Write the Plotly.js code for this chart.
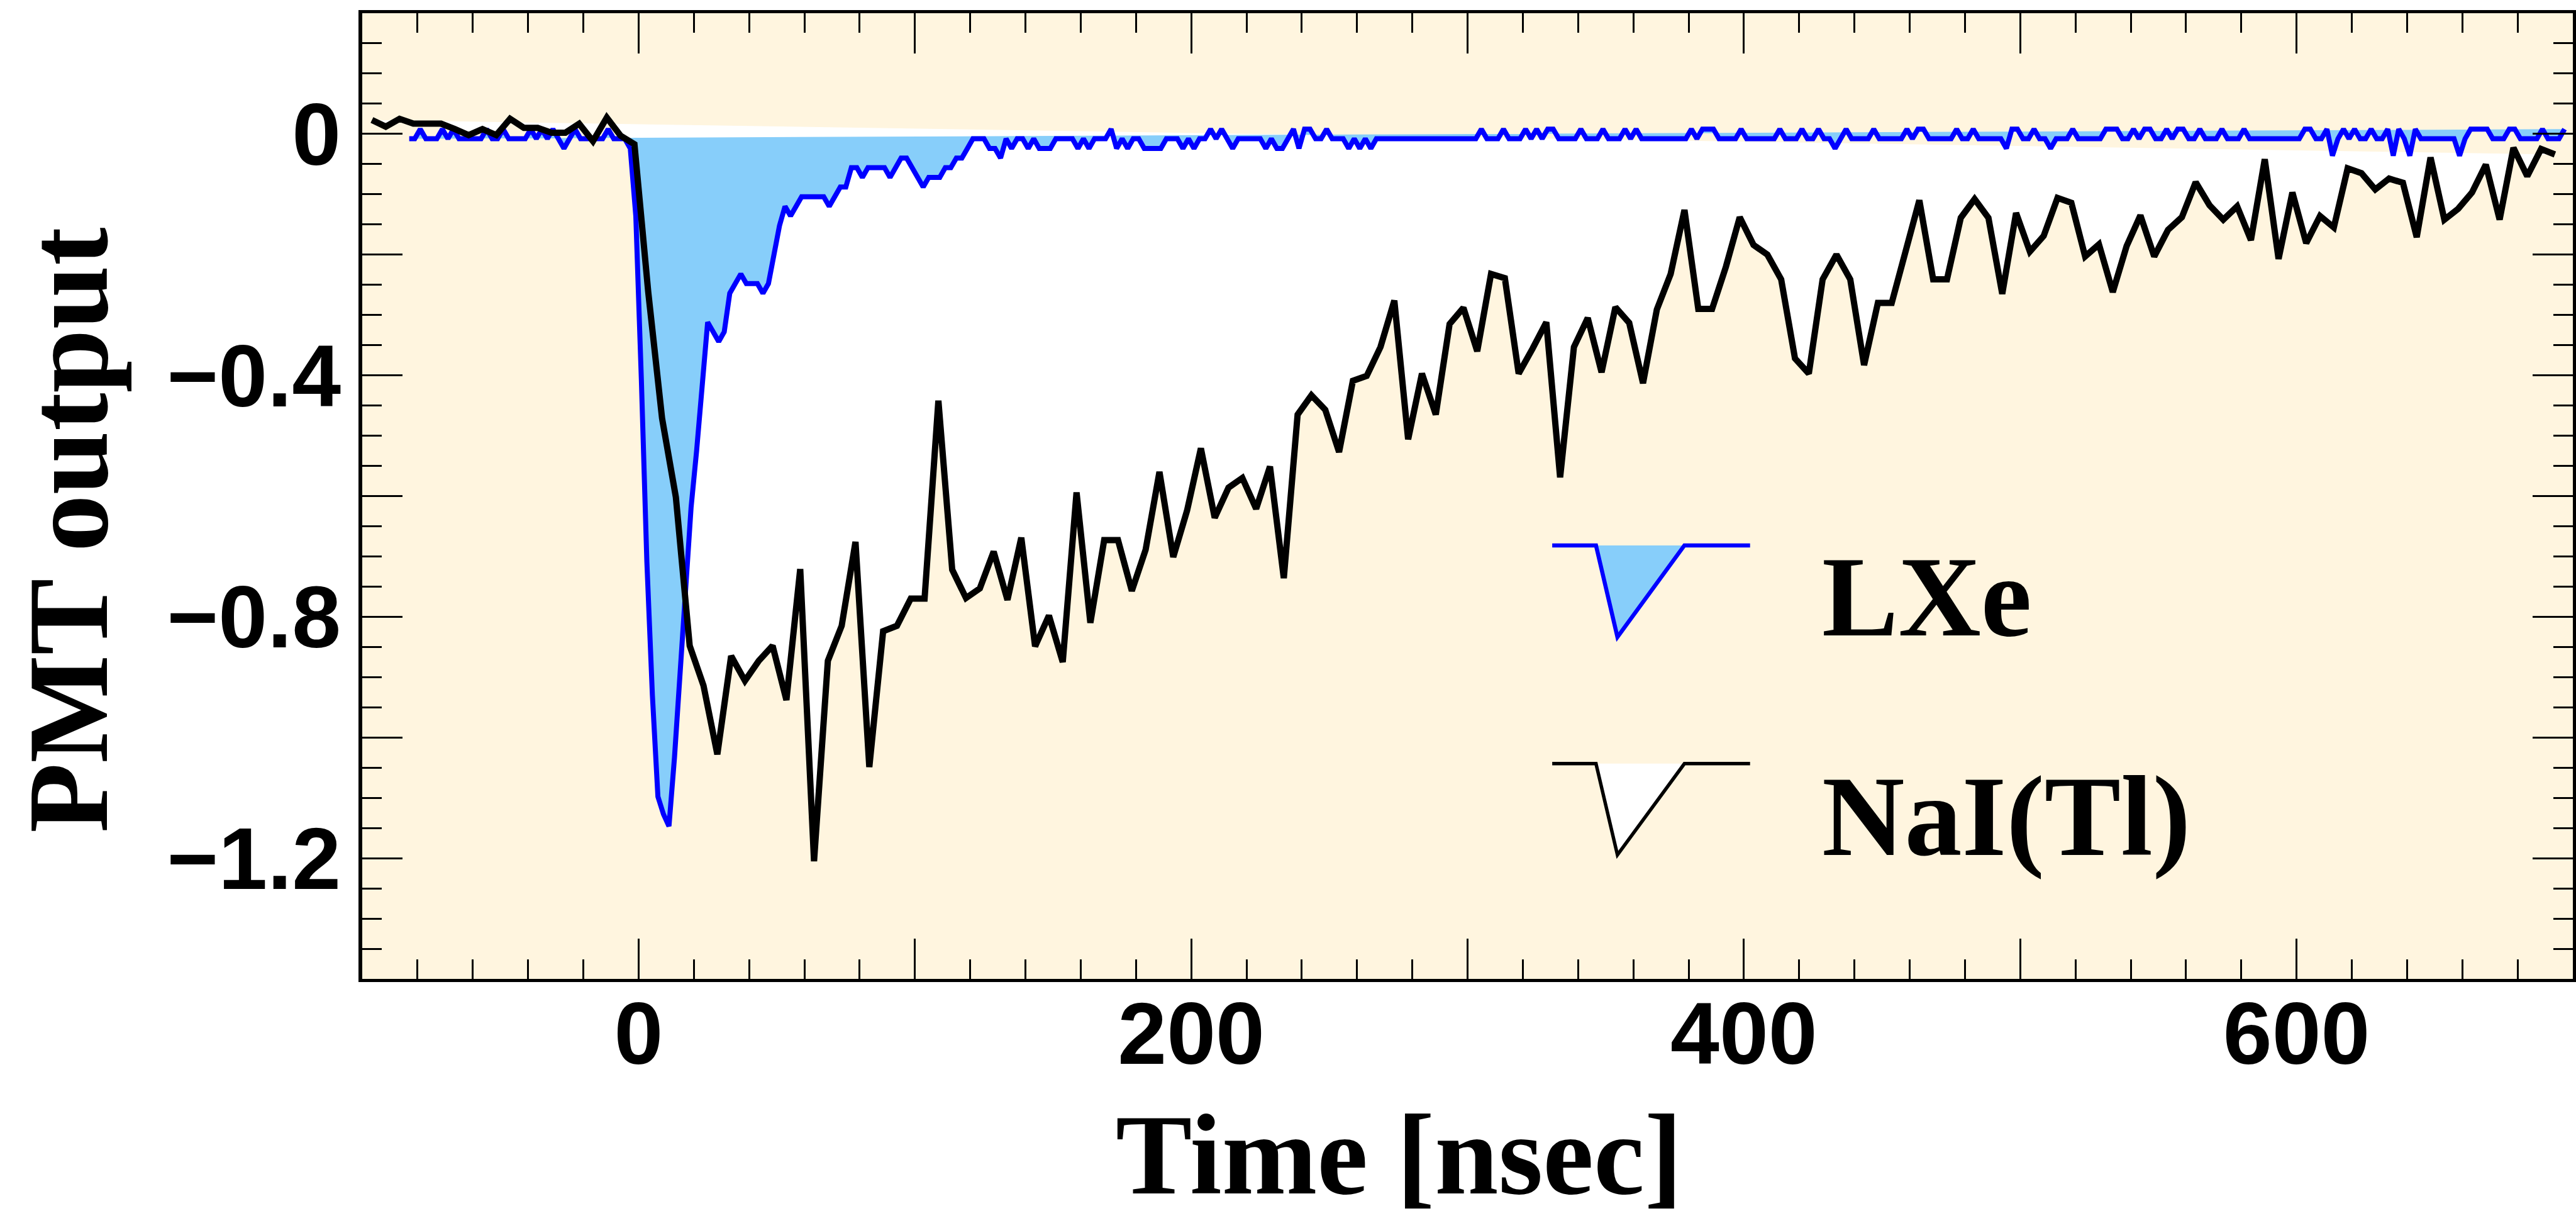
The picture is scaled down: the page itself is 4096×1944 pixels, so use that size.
<!DOCTYPE html>
<html><head><meta charset="utf-8">
<script src="https://cdn.plot.ly/plotly-3.0.1.min.js"></script>
<style>html,body{margin:0;padding:0;background:#fff;}#chart{width:4096px;height:1944px;}</style>
</head><body><div id="chart"></div>
<script>
// NaI(Tl) waveform: sampled every 5 ns starting at -96.5 ns
const NAI_T0 = -96.5, NAI_DT = 5;
const naiValues = [
 0.023, 0.012, 0.025, 0.017, 0.017, 0.017, 0.008, -0.002, 0.008, -0.002,
 0.025, 0.010, 0.010, 0.002, 0.002, 0.017, -0.012, 0.027, -0.003, -0.017,
 -0.262, -0.471, -0.602, -0.848, -0.914, -1.028, -0.865, -0.906, -0.873, -0.848,
 -0.938, -0.721, -1.205, -0.873, -0.815, -0.676, -1.049, -0.824, -0.815, -0.770,
 -0.770, -0.442, -0.722, -0.769, -0.753, -0.692, -0.772, -0.669, -0.849, -0.798,
 -0.875, -0.594, -0.810, -0.673, -0.673, -0.757, -0.689, -0.560, -0.701, -0.624,
 -0.521, -0.636, -0.586, -0.570, -0.621, -0.551, -0.736, -0.465, -0.433, -0.457,
 -0.527, -0.409, -0.401, -0.353, -0.276, -0.506, -0.397, -0.465, -0.315, -0.288,
 -0.360, -0.232, -0.239, -0.397, -0.356, -0.312, -0.569, -0.353, -0.305, -0.395,
 -0.287, -0.313, -0.413, -0.291, -0.232, -0.126, -0.290, -0.290, -0.220, -0.138,
 -0.184, -0.200, -0.241, -0.372, -0.397, -0.241, -0.200, -0.241, -0.383, -0.280,
 -0.280, -0.190, -0.110, -0.241, -0.241, -0.139, -0.108, -0.139, -0.265, -0.131,
 -0.195, -0.169, -0.106, -0.114, -0.203, -0.183, -0.262, -0.186, -0.135, -0.203,
 -0.159, -0.138, -0.080, -0.118, -0.142, -0.120, -0.176, -0.042, -0.207, -0.097,
 -0.181, -0.136, -0.155, -0.057, -0.065, -0.092, -0.074, -0.081, -0.171, -0.039,
 -0.142, -0.124, -0.097, -0.051, -0.142, -0.023, -0.070, -0.025, -0.034
];
// LXe waveform: sampled every 2 ns starting at -83 ns
const LXE_T0 = -83, LXE_DT = 2;
const lxeValues = [
 -0.008, -0.008, 0.008, -0.008, -0.008, -0.008, 0.008, -0.008, 0.008, -0.008,
 -0.008, -0.008, -0.008, -0.008, 0.008, -0.008, -0.008, 0.008, -0.008, -0.008,
 -0.008, -0.008, 0.008, -0.008, 0.008, -0.008, 0.008, -0.008, -0.024, -0.008,
 0.008, -0.008, -0.008, -0.008, -0.008, -0.008, 0.008, -0.008, -0.008, -0.008,
 -0.024, -0.136, -0.406, -0.709, -0.930, -1.098, -1.127, -1.147, -1.033, -0.889,
 -0.750, -0.619, -0.525, -0.410, -0.312, -0.328, -0.344, -0.328, -0.264, -0.248,
 -0.232, -0.248, -0.248, -0.248, -0.264, -0.248, -0.200, -0.152, -0.120, -0.136,
 -0.120, -0.104, -0.104, -0.104, -0.104, -0.104, -0.120, -0.104, -0.088, -0.088,
 -0.056, -0.056, -0.072, -0.056, -0.056, -0.056, -0.056, -0.072, -0.056, -0.040,
 -0.040, -0.056, -0.072, -0.088, -0.072, -0.072, -0.072, -0.056, -0.056, -0.040,
 -0.040, -0.024, -0.008, -0.008, -0.008, -0.024, -0.024, -0.040, -0.008, -0.024,
 -0.008, -0.008, -0.024, -0.008, -0.024, -0.024, -0.024, -0.008, -0.008, -0.008,
 -0.008, -0.024, -0.008, -0.024, -0.008, -0.008, -0.008, 0.008, -0.024, -0.008,
 -0.024, -0.008, -0.008, -0.024, -0.024, -0.024, -0.024, -0.008, -0.008, -0.008,
 -0.024, -0.008, -0.024, -0.008, -0.008, 0.008, -0.008, 0.008, -0.008, -0.024,
 -0.008, -0.008, -0.008, -0.008, -0.008, -0.024, -0.008, -0.024, -0.024, -0.008,
 0.008, -0.024, 0.008, 0.008, -0.008, -0.008, 0.008, -0.008, -0.008, -0.008,
 -0.024, -0.008, -0.024, -0.008, -0.024, -0.008, -0.008, -0.008, -0.008, -0.008,
 -0.008, -0.008, -0.008, -0.008, -0.008, -0.008, -0.008, -0.008, -0.008, -0.008,
 -0.008, -0.008, -0.008, -0.008, 0.008, -0.008, -0.008, -0.008, 0.008, -0.008,
 -0.008, -0.008, 0.008, -0.008, 0.008, -0.008, 0.008, 0.008, -0.008, -0.008,
 -0.008, -0.008, 0.008, -0.008, -0.008, -0.008, 0.008, -0.008, -0.008, -0.008,
 0.008, -0.008, 0.008, -0.008, -0.008, -0.008, -0.008, -0.008, -0.008, -0.008,
 -0.008, -0.008, 0.008, -0.008, 0.008, 0.008, 0.008, -0.008, -0.008, -0.008,
 -0.008, 0.008, -0.008, -0.008, -0.008, -0.008, -0.008, -0.008, 0.008, -0.008,
 -0.008, -0.008, 0.008, -0.008, -0.008, 0.008, -0.008, -0.008, -0.024, -0.008,
 0.008, -0.008, -0.008, -0.008, -0.008, 0.008, -0.008, -0.008, -0.008, -0.008,
 -0.008, 0.008, -0.008, 0.008, 0.008, -0.008, -0.008, -0.008, -0.008, -0.008,
 0.008, -0.008, -0.008, 0.008, -0.008, -0.008, -0.008, -0.008, -0.008, -0.024,
 0.008, 0.008, -0.008, -0.008, 0.008, -0.008, -0.008, -0.024, -0.008, -0.008,
 -0.008, 0.008, -0.008, -0.008, -0.008, -0.008, -0.008, 0.008, 0.008, 0.008,
 -0.008, -0.008, 0.008, -0.008, 0.008, 0.008, -0.008, -0.008, 0.008, -0.008,
 0.008, 0.008, -0.008, -0.008, 0.008, -0.008, -0.008, -0.008, 0.008, -0.008,
 -0.008, -0.008, 0.008, -0.008, -0.008, -0.008, -0.008, -0.008, -0.008, -0.008,
 -0.008, -0.008, -0.008, 0.008, 0.008, -0.008, -0.008, 0.008, -0.036, -0.008,
 0.008, -0.008, 0.008, -0.008, -0.008, 0.008, -0.008, -0.008, 0.008, -0.036,
 0.008, -0.008, -0.036, 0.008, -0.008, -0.008, -0.008, -0.008, -0.008, -0.008,
 -0.008, -0.036, -0.008, 0.008, 0.008, 0.008, 0.008, -0.008, -0.008, -0.008,
 0.008, 0.008, -0.008, -0.008, -0.008, -0.008, 0.008, -0.008, -0.008, -0.008,
 0.008
];
// Axis ticks
const xRange = [-100, 700];
const yRange = [-1.4, 0.2];
const xTickVals = [-100, 0, 100, 200, 300, 400, 500, 600, 700];
const xTickText = ['', '0', '', '200', '', '400', '', '600', ''];
const yTickVals = [-1.4, -1.2, -1.0, -0.8, -0.6, -0.4, -0.2, 0, 0.2];
const yTickText = ['', '\u22121.2', '', '\u22120.8', '', '\u22120.4', '', '0', ''];
const seriesNames = ['LXe', 'NaI(Tl)'];
const xTitle = 'Time [nsec]';
const yTitle = 'PMT output';

const CREAM = 'rgb(255,245,223)';
const LXE_FILL = 'rgb(135,206,250)';
const LXE_LINE = 'rgb(0,0,255)';
const NAI_FILL = 'rgb(255,255,255)';
const NAI_LINE = 'rgb(0,0,0)';
const LXE_W = 8, NAI_W = 10;

const traces = [
  {type:'scatter', mode:'lines', x0:NAI_T0, dx:NAI_DT, y:naiValues, fill:'toself',
   fillcolor:NAI_FILL, line:{width:0}, hoverinfo:'skip', showlegend:false},
  {type:'scatter', mode:'lines', x0:LXE_T0, dx:LXE_DT, y:lxeValues, fill:'toself',
   fillcolor:LXE_FILL, line:{width:0}, hoverinfo:'skip', showlegend:false},
  {type:'scatter', mode:'lines', x0:LXE_T0, dx:LXE_DT, y:lxeValues, name:seriesNames[0],
   line:{color:LXE_LINE, width:LXE_W}, showlegend:false},
  {type:'scatter', mode:'lines', x0:NAI_T0, dx:NAI_DT, y:naiValues, name:seriesNames[1],
   line:{color:NAI_LINE, width:NAI_W}, showlegend:false}
];

const tickFont = {family:'Liberation Sans, Arial, sans-serif', size:140, weight:'bold', color:'black'};
const titleFont = {family:'Liberation Serif, Times New Roman, serif', size:182, weight:'bold', color:'black'};

const commonAxis = {
  showline:true, linecolor:'black', mirror:'allticks',
  ticks:'inside', ticklen:64, tickwidth:3, tickcolor:'black',
  tickmode:'array', tickfont:tickFont, showgrid:false, zeroline:false, fixedrange:true
};

// legend glyph geometry (paper units)
const gx = [0.5383, 0.5581, 0.5678, 0.5981, 0.6278];
const gy = [[0.4489, 0.3540], [0.2229, 0.1284]];
function glyph(top, bot, fill, color, w) {
  return [
    {type:'path', xref:'paper', yref:'paper', layer:'above',
     path:`M ${gx[1]},${top} L ${gx[2]},${bot} L ${gx[3]},${top} Z`,
     fillcolor:fill, line:{width:0}},
    {type:'path', xref:'paper', yref:'paper', layer:'above',
     path:`M ${gx[0]},${top} L ${gx[1]},${top} L ${gx[2]},${bot} L ${gx[3]},${top} L ${gx[4]},${top}`,
     fillcolor:'rgba(0,0,0,0)', line:{color:color, width:w}}
  ];
}

const layout = {
  width:4096, height:1944,
  margin:{l:575.5, r:5.4, t:20.7, b:387.8, pad:0},
  paper_bgcolor:'white', plot_bgcolor:CREAM,
  showlegend:false,
  xaxis:Object.assign({}, commonAxis, {range:xRange, tickvals:xTickVals, ticktext:xTickText,
    linewidth:5, ticklabelstandoff:-38,
    minor:{tickmode:'linear', tick0:0, dtick:20, ticks:'inside', ticklen:31, tickwidth:3, tickcolor:'black'}}),
  yaxis:Object.assign({}, commonAxis, {range:yRange, tickvals:yTickVals, ticktext:yTickText,
    linewidth:6,
    minor:{tickmode:'linear', tick0:0, dtick:0.05, ticks:'inside', ticklen:31, tickwidth:3, tickcolor:'black'}}),
  shapes:[].concat(glyph(gy[0][0], gy[0][1], LXE_FILL, LXE_LINE, 6.5),
                   glyph(gy[1][0], gy[1][1], NAI_FILL, NAI_LINE, 5.5)),
  annotations:[
    {text:xTitle, xref:'paper', yref:'paper', x:0.469, y:-0.182, xanchor:'center', yanchor:'middle',
     showarrow:false, font:titleFont, borderpad:0, borderwidth:0},
    {text:yTitle, xref:'paper', yref:'paper', x:-0.1329, y:0.4645, xanchor:'center', yanchor:'middle',
     textangle:-90, showarrow:false, font:titleFont, borderpad:0, borderwidth:0},
    {text:seriesNames[0], xref:'paper', yref:'paper', x:0.6602, y:0.3957, xanchor:'left', yanchor:'middle',
     showarrow:false, font:titleFont, borderpad:0, borderwidth:0},
    {text:seriesNames[1], xref:'paper', yref:'paper', x:0.6602, y:0.1683, xanchor:'left', yanchor:'middle',
     showarrow:false, font:titleFont, borderpad:0, borderwidth:0}
  ]
};

Plotly.newPlot('chart', traces, layout, {displayModeBar:false, staticPlot:true});
</script></body></html>
